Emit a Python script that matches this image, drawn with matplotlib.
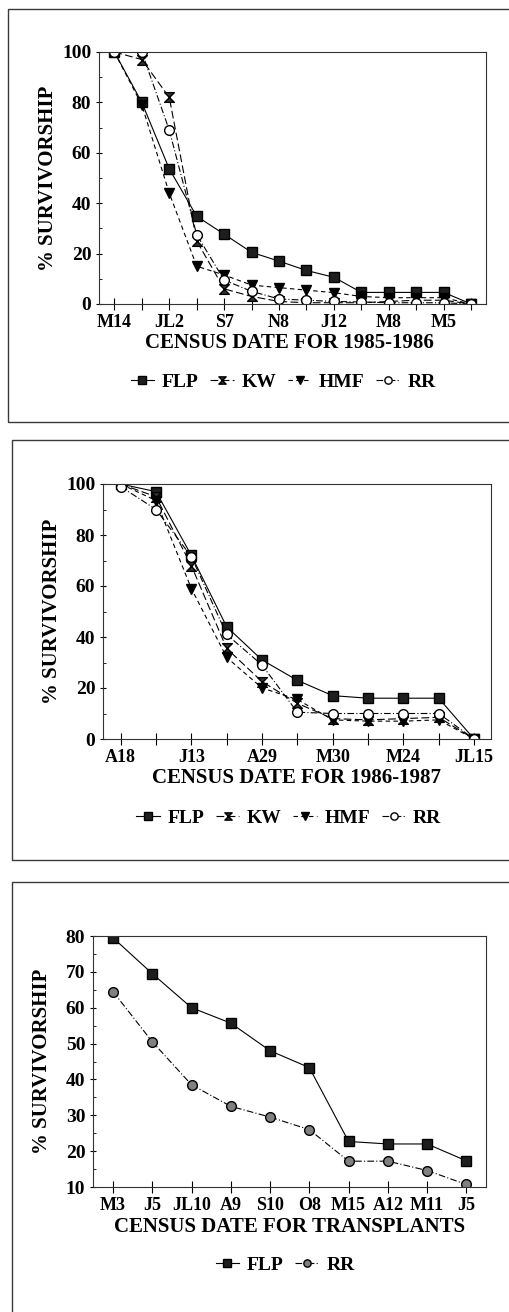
import matplotlib
matplotlib.use("Agg")
import matplotlib.pyplot as plt
from matplotlib.patches import Rectangle
from matplotlib.path import Path
from matplotlib.ticker import MultipleLocator

plt.rcParams['font.family'] = ['Liberation Serif', 'DejaVu Serif']
plt.rcParams['font.weight'] = 'bold'

# Census 1985-1986
dates_8586 = ["M14", "", "JL2", "", "S7", "", "N8", "", "J12", "", "M8", "", "M5", ""]
flp_8586 = [100, 80, 53.6, 34.8, 27.7, 20.5, 17, 13.3, 10.6, 4.6, 4.6, 4.6, 4.6, 0]
kw_8586 = [100, 97, 82, 25, 6, 3, 1, 0.5, 0.5, 0.5, 1, 1.5, 1.5, 0]
hmf_8586 = [100, 79, 44, 15, 11.5, 7.5, 6.5, 5.5, 4.5, 3, 2.5, 2.5, 2.5, 0]
rr_8586 = [100, 100, 69, 27.5, 9.5, 5, 2, 1.5, 1, 0.8, 0.5, 0.5, 0.5, 0]

# Census 1986-1987
dates_8687 = ["A18", "", "J13", "", "A29", "", "M30", "", "M24", "", "JL15"]
flp_8687 = [100, 97, 72, 44, 31, 23, 17, 16, 16, 16, 0]
kw_8687 = [100, 95, 68, 35.5, 22.5, 14, 8, 7.5, 8, 8.5, 0]
hmf_8687 = [100, 93.5, 59, 32, 20, 15.5, 7.5, 7, 7, 7.5, 0]
rr_8687 = [99, 90, 71.5, 41, 29, 10.5, 10, 10, 10, 10, 0]

# Transplants
dates_trans = ["M3", "J5", "JL10", "A9", "S10", "O8", "M15", "A12", "M11", "J5"]
flp_trans = [79.5, 69.5, 60, 55.7, 48, 43.3, 22.7, 22, 22, 17.3]
rr_trans = [64.5, 50.5, 38.5, 32.5, 29.5, 26, 17.2, 17.2, 14.6, 10.7]

# hourglass marker for KW
hourglass = Path([(-1, 1), (1, 1), (-1, -1), (1, -1), (-1, 1)],
                 [Path.MOVETO, Path.LINETO, Path.LINETO, Path.LINETO, Path.CLOSEPOLY])

styles = {
    "FLP": dict(color="black", ls="-", marker="s", mfc="#1e1e1e", mec="black", ms=7),
    "KW": dict(color="black", ls=(0, (7, 3)), marker=hourglass, mfc="#333333", mec="black", ms=7),
    "HMF": dict(color="black", ls=(0, (4, 3)), marker="v", mfc="black", mec="black", ms=7.5),
    "RR": dict(color="black", ls=(0, (6, 2, 1, 2)), marker="o", mfc="white", mec="black", ms=7),
}


def setup_axes(ax, labels, ylim, major, minor, xlabel, xlim, leg_x, xlabel_x, xlabel_y, ylabel_x):
    ax.set_xlim(*xlim)
    ax.set_ylim(*ylim)
    ax.set_xticks(range(len(labels)))
    ax.set_xticklabels(labels, fontsize=13, fontweight="bold")
    ax.yaxis.set_major_locator(MultipleLocator(major))
    ax.yaxis.set_minor_locator(MultipleLocator(minor))
    ax.tick_params(axis="x", direction="inout", length=8, width=0.8, pad=3)
    ax.tick_params(axis="y", which="major", direction="inout", length=5, width=0.8, pad=3, labelsize=14)
    ax.tick_params(axis="y", which="minor", direction="in", length=2.5, width=0.6)
    for lab in ax.get_yticklabels():
        lab.set_fontweight("bold")
    for sp in ax.spines.values():
        sp.set_linewidth(0.8)
        sp.set_color("#333333")
    ax.set_xlabel(xlabel, fontsize=15, fontweight="bold", va="top")
    ax.xaxis.set_label_coords(xlabel_x, xlabel_y)
    ax.set_ylabel("% SURVIVORSHIP", fontsize=15, fontweight="bold")
    ax.yaxis.set_label_coords(ylabel_x, 0.5)
    ncol = len(ax.get_lines())
    ax.legend(loc="center", bbox_to_anchor=(leg_x, -0.31), ncol=ncol, frameon=False,
              handlelength=1.2, handletextpad=0.4, columnspacing=0.6,
              markerscale=0.75, prop={"weight": "bold", "size": 14})


fig = plt.figure(figsize=(5.1, 13.12), dpi=100)
H = 1312.0
W = 510.0

# panel borders
for x0, y0, y1 in [(8, 9, 422), (12, 440, 860), (12, 882, 1330)]:
    fig.add_artist(Rectangle((x0 / W, 1 - y1 / H), 1.2, (y1 - y0) / H, transform=fig.transFigure,
                             fill=False, lw=1.0, ec="#3a3a3a"))

# 1985-1986
ax1 = fig.add_axes([99 / W, 1 - 304 / H, 387 / W, 252 / H])
x = range(len(dates_8586))
ax1.plot(x, flp_8586, label="FLP", lw=0.8, **styles["FLP"])
ax1.plot(x, kw_8586, label="KW", lw=0.8, **styles["KW"])
ax1.plot(x, hmf_8586, label="HMF", lw=0.8, **styles["HMF"])
ax1.plot(x, rr_8586, label="RR", lw=0.8, **styles["RR"])
setup_axes(ax1, dates_8586, (0, 100), 20, 10, "CENSUS DATE FOR 1985-1986", (-0.56, 13.54),
           0.476, 0.492, -0.115, -0.105)

# 1986-1987
ax2 = fig.add_axes([103 / W, 1 - 739 / H, 388 / W, 255 / H])
x = range(len(dates_8687))
ax2.plot(x, flp_8687, label="FLP", lw=0.8, **styles["FLP"])
ax2.plot(x, kw_8687, label="KW", lw=0.8, **styles["KW"])
ax2.plot(x, hmf_8687, label="HMF", lw=0.8, **styles["HMF"])
ax2.plot(x, rr_8687, label="RR", lw=0.8, **styles["RR"])
setup_axes(ax2, dates_8687, (0, 100), 20, 10, "CENSUS DATE FOR 1986-1987", (-0.5, 10.48),
           0.479, 0.5, -0.114, -0.105)

# transplants
ax3 = fig.add_axes([93 / W, 1 - 1187 / H, 393 / W, 251 / H])
x = range(len(dates_trans))
ax3.plot(x, flp_trans, label="FLP", lw=0.8, **styles["FLP"])
rr3 = dict(styles["RR"])
rr3["mfc"] = "#808080"
ax3.plot(x, rr_trans, label="RR", lw=0.8, **rr3)
setup_axes(ax3, dates_trans, (10, 80), 10, 5, "CENSUS DATE FOR TRANSPLANTS", (-0.51, 9.5),
           0.489, 0.501, -0.12, -0.105)

fig.savefig("out.png", dpi=100)
